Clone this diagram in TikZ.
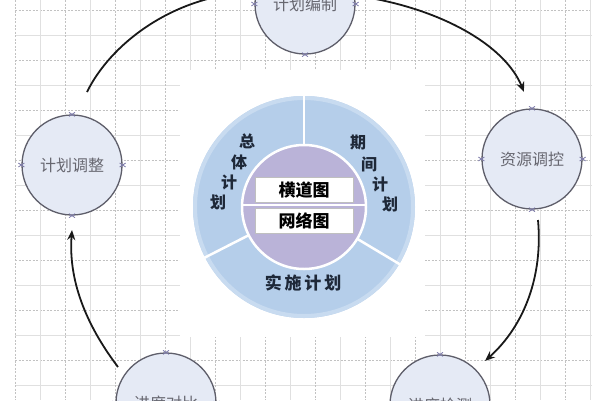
\documentclass[tikz,border=0pt]{standalone}
\usepackage{fontspec}
\setmainfont{Noto Sans CJK SC}
\usetikzlibrary{arrows.meta}
\definecolor{gridsolid}{HTML}{E0E0E0}
\definecolor{griddash}{HTML}{C2C2C2}
\definecolor{procfill}{HTML}{E5EAF5}
\definecolor{procdraw}{HTML}{5E5E6A}
\definecolor{proctext}{HTML}{676770}
\definecolor{ringblue}{HTML}{B5CEEA}
\definecolor{ringrim}{HTML}{C8DBF0}
\definecolor{innerpurple}{HTML}{BAB3D8}
\definecolor{ringtext}{HTML}{1E2838}
\definecolor{markc}{HTML}{7A78A8}
\tikzset{
  gs/.style={gridsolid, line width=0.8pt},
  gd/.style={griddash, line width=0.8pt, dash pattern=on 2pt off 1.5pt},
  proc/.style={circle, minimum size=100pt, inner sep=0pt, fill=procfill, draw=procdraw, line width=1.3pt, text=proctext, font=\fontsize{16}{16}\selectfont},
  ringlbl/.style={text=ringtext, font=\bfseries\fontsize{16}{16}\selectfont, inner sep=0pt},
  boxlbl/.style={fill=white, draw=black!25, line width=0.4pt, minimum width=98pt, minimum height=25pt, inner sep=0pt, font=\bfseries\fontsize{17}{17}\selectfont, text=black},
  arr/.style={line width=1.8pt, black!90, -{Stealth[length=10pt,width=8pt]}},
  mkline/.style={markc, line width=0.8pt},
  sep/.style={white, line width=2.5pt}
}
\newcommand\mymark[1]{\draw[mkline] (#1) ++(-3,-2) -- ++(6,4) (#1) ++(-3,2) -- ++(6,-4);}
\begin{document}
\begin{tikzpicture}[x=1pt,y=-1pt]
\useasboundingbox (0,0) rectangle (600,400);
\fill[white] (0,0) rectangle (600,400);
% grid
\foreach \yy in {10,60,...,360} \draw[gd] (15,\yy) -- (592,\yy);
\foreach \yy in {35,85,...,385} \draw[gs] (15,\yy) -- (592,\yy);
\foreach \xx in {15,65,...,565} \draw[gd] (\xx,0) -- (\xx,400);
\foreach \xx in {40,90,...,590} \draw[gs] (\xx,0) -- (\xx,400);
\fill[white] (180,70) rectangle (425,337);
% central figure
\coordinate (C) at (304,207);
\fill[ringblue] (C) circle (111);
\draw[ringrim, line width=4pt] (C) circle (109);
\coordinate (s1) at (304,94);
\coordinate (s2) at (204,258);
\coordinate (s3) at (401,265);
\draw[sep] (C) -- (s1);
\draw[sep] (C) -- (s2);
\draw[sep] (C) -- (s3);
\filldraw[fill=innerpurple, draw=white, line width=2.5pt] (C) circle (62);
\coordinate (hl) at (242,205);
\coordinate (hr) at (366,205);
\draw[sep] (hl) -- (hr);
\node[boxlbl] (b1) at (304,190) {横道图};
\node[boxlbl] (b2) at (304,221) {网络图};
\node[ringlbl] (z1) at (247,141) {总};
\node[ringlbl] (z2) at (239,162) {体};
\node[ringlbl] (z3) at (229,182) {计};
\node[ringlbl] (z4) at (218,202) {划};
\node[ringlbl] (q1) at (358,143) {期};
\node[ringlbl] (q2) at (369,164) {间};
\node[ringlbl] (q3) at (380,184) {计};
\node[ringlbl] (q4) at (390,204) {划};
\node[ringlbl, font=\bfseries\fontsize{17}{17}\selectfont] (ss) at (303,283) {实\,施\,计\,划};
% process circles
\node[proc] (top) at (305,4) {计划编制};
\node[proc] (lft) at (72,165) {计划调整};
\node[proc] (rgt) at (532,159) {资源调控};
\node[proc] (bl) at (166,403) {进度对比};
\node[proc] (br) at (440,405) {进度检测};
\foreach \n in {top,lft,rgt,bl,br}{
  \mymark{\n.north} \mymark{\n.south} \mymark{\n.east} \mymark{\n.west}
}
% arrows
\coordinate (a1s) at (87,92);
\coordinate (a1e) at (252,-8);
\coordinate (a2s) at (358,-4);
\coordinate (a2e) at (524,92);
\coordinate (a3s) at (538,220);
\coordinate (a3e) at (485,361);
\coordinate (a4s) at (118,367);
\coordinate (a4e) at (72,230);
\draw[arr] (a1s) .. controls (110,45) and (170,-2) .. (a1e);
\draw[arr] (a2s) .. controls (440,8) and (505,45) .. (a2e);
\draw[arr] (a3s) .. controls (543,275) and (525,325) .. (a3e);
\draw[arr] (a4s) .. controls (90,330) and (68,285) .. (a4e);
\end{tikzpicture}
\end{document}
